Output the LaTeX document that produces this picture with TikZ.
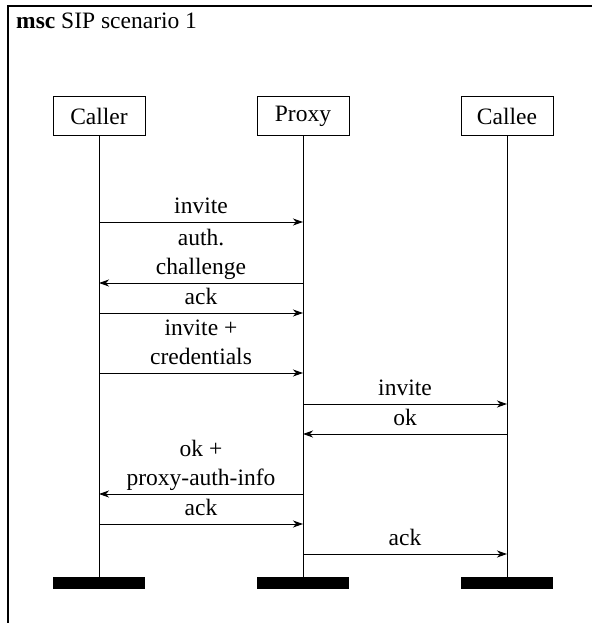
\documentclass[tikz,border=0pt]{standalone}
\usepackage{fontspec}
\setmainfont{Liberation Serif}
\usetikzlibrary{arrows.meta}
\begin{document}
\begin{tikzpicture}[x=1pt,y=-1pt,
  inst/.style={draw, line width=1pt, minimum width=92pt, minimum height=38pt, inner sep=0pt,
    font=\fontsize{23.5}{30}\selectfont},
  endbar/.style={fill=black, minimum width=92pt, minimum height=12pt, inner sep=0pt},
  life/.style={line width=1pt},
  msg/.style={line width=1pt, -{Stealth[length=10pt,width=7pt,inset=3pt]}},
  lbl/.style={anchor=south, inner xsep=0pt, inner ysep=8.5pt, text depth=0pt, align=center,
    font=\fontsize{23.5}{28.5}\selectfont}]
\useasboundingbox (0,0) rectangle (592,623);
\fill[white] (0,0) rectangle (592,623);
\draw[line width=1.2pt] (8,623) -- (8,6) -- (592,6);
\node[anchor=base west, inner sep=0pt, font=\fontsize{23.5}{28}\selectfont] (title) at (16,29) {\textbf{msc} SIP scenario 1};
\node[inst] (caller) at (99,116) {Caller};
\node[inst] (proxy) at (303,116) {Proxy};
\node[inst] (callee) at (507,116) {Callee};
\node[endbar] (barA) at (99,583) {};
\node[endbar] (barB) at (303,583) {};
\node[endbar] (barC) at (507,583) {};
\draw[life] (caller.south) -- (barA.north);
\draw[life] (proxy.south) -- (barB.north);
\draw[life] (callee.south) -- (barC.north);
\draw[msg] (caller |- 0,222) -- node[lbl]{invite} (proxy |- 0,222);
\draw[msg] (proxy |- 0,283) -- node[lbl]{auth.\\challenge} (caller |- 0,283);
\draw[msg] (caller |- 0,313) -- node[lbl]{ack} (proxy |- 0,313);
\draw[msg] (caller |- 0,373) -- node[lbl]{invite +\\credentials} (proxy |- 0,373);
\draw[msg] (proxy |- 0,404) -- node[lbl]{invite} (callee |- 0,404);
\draw[msg] (callee |- 0,434) -- node[lbl]{ok} (proxy |- 0,434);
\draw[msg] (proxy |- 0,494) -- node[lbl]{ok +\\proxy-auth-info} (caller |- 0,494);
\draw[msg] (caller |- 0,524) -- node[lbl]{ack} (proxy |- 0,524);
\draw[msg] (proxy |- 0,554) -- node[lbl]{ack} (callee |- 0,554);
\end{tikzpicture}
\end{document}
